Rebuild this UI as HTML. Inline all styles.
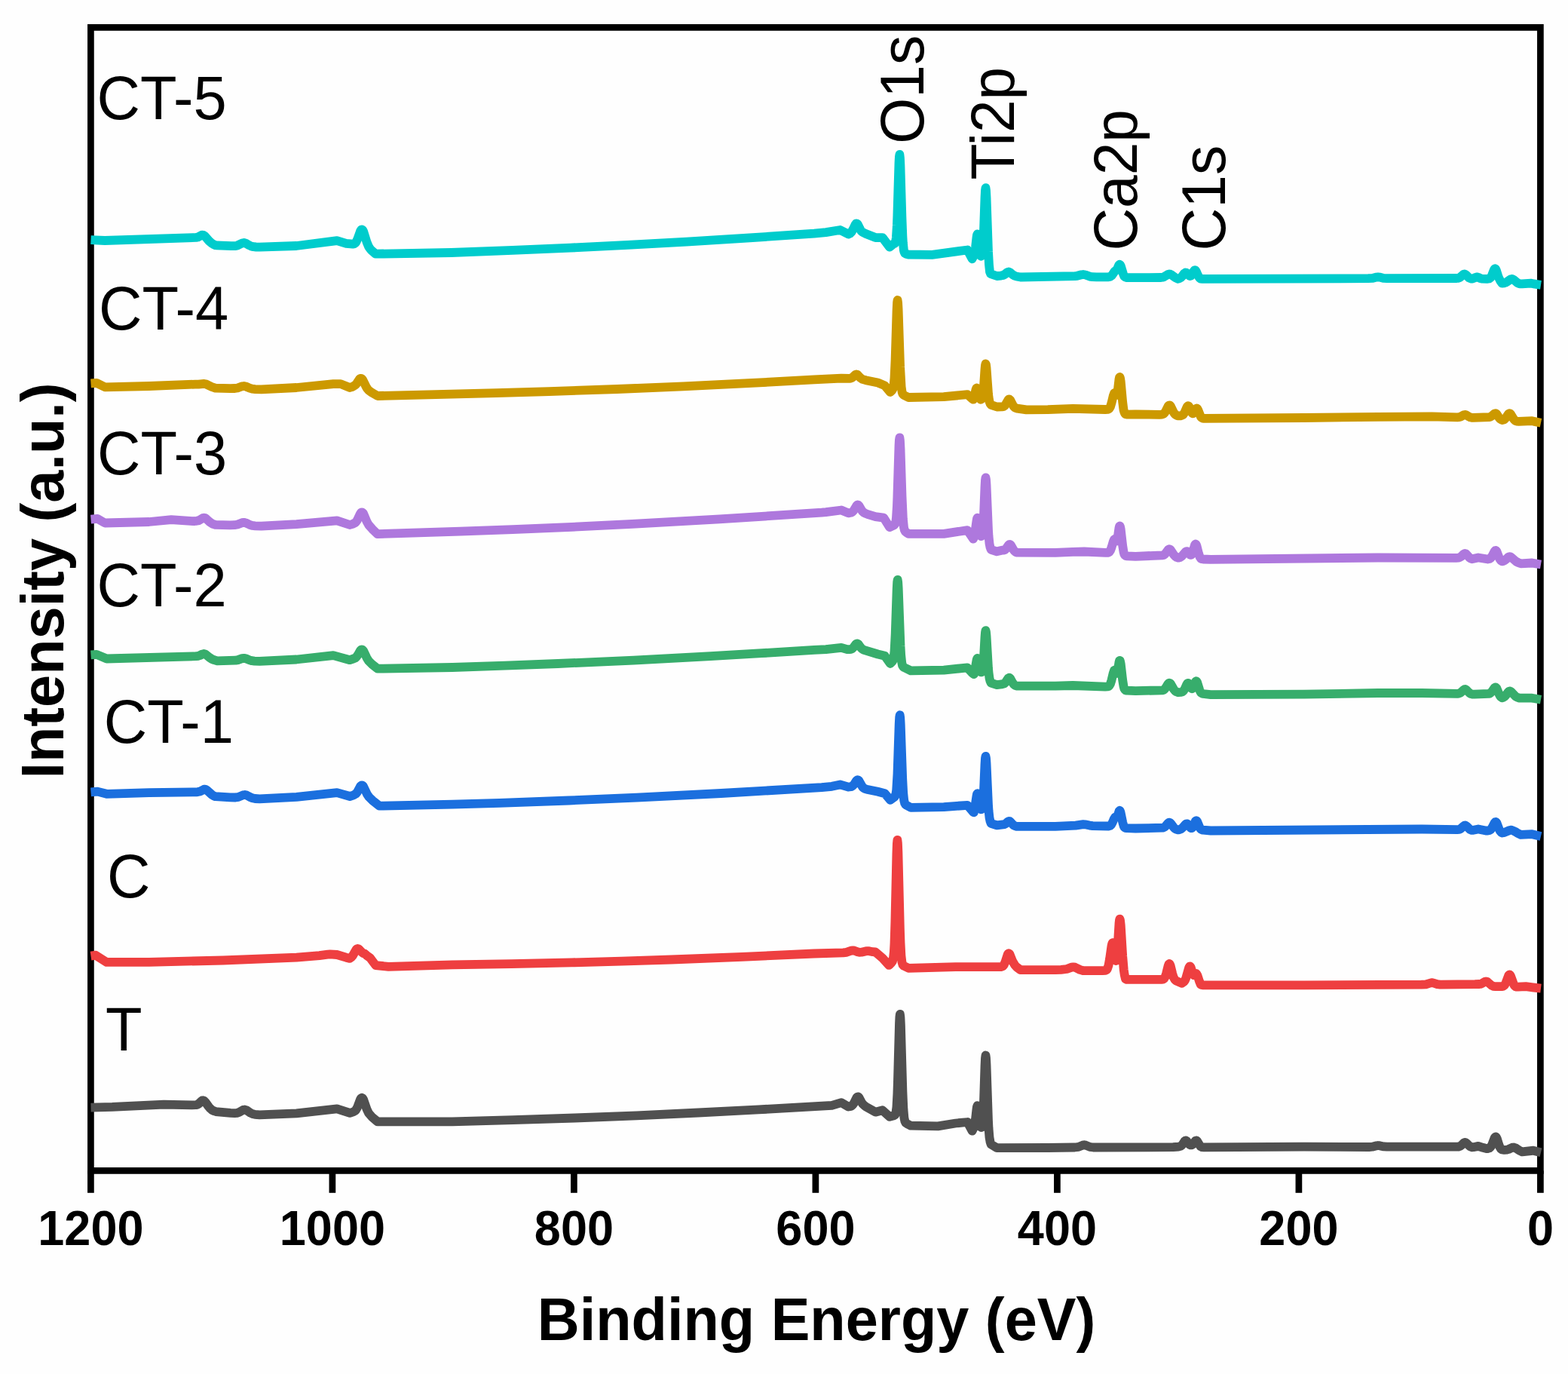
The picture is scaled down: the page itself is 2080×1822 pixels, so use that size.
<!DOCTYPE html>
<html><head><meta charset="utf-8"><title>XPS survey spectra</title><style>
html,body{margin:0;padding:0;background:#FEFEFE;overflow:hidden;}
svg{display:block;}
text{font-family:"Liberation Sans",Arial,sans-serif;fill:#000;}
.tk{font-size:63px;font-weight:bold;}
.lb{font-size:79.5px;}
.pk{font-size:78.5px;}
.ax{font-size:77.5px;font-weight:bold;}
</style></head>
<body>
<svg width="2080" height="1822" viewBox="0 0 2080 1822">
<rect x="0" y="0" width="2080" height="1822" fill="#FEFEFE"/>
<rect x="120.4" y="36.4" width="1923.0" height="1516.0" fill="none" stroke="#000" stroke-width="8.7"/>
<line x1="120.4" y1="1552.4" x2="120.4" y2="1581.8" stroke="#000" stroke-width="8.7"/>
<line x1="440.9" y1="1552.4" x2="440.9" y2="1581.8" stroke="#000" stroke-width="8.7"/>
<line x1="761.4" y1="1552.4" x2="761.4" y2="1581.8" stroke="#000" stroke-width="8.7"/>
<line x1="1081.9" y1="1552.4" x2="1081.9" y2="1581.8" stroke="#000" stroke-width="8.7"/>
<line x1="1402.4" y1="1552.4" x2="1402.4" y2="1581.8" stroke="#000" stroke-width="8.7"/>
<line x1="1722.9" y1="1552.4" x2="1722.9" y2="1581.8" stroke="#000" stroke-width="8.7"/>
<line x1="2043.4" y1="1552.4" x2="2043.4" y2="1581.8" stroke="#000" stroke-width="8.7"/>
<polyline points="120.5,318.2 139.0,319.0 260.3,314.9 262.5,314.5 267.3,311.9 268.8,311.6 270.3,312.0 271.8,313.2 277.3,319.5 280.3,322.2 282.5,323.6 285.7,325.2 287.3,325.3 306.6,326.2 311.6,326.2 315.1,325.4 321.1,322.5 323.6,322.0 326.1,322.7 330.6,325.3 333.1,326.5 336.1,327.2 339.6,327.5 344.4,327.7 393.3,326.0 447.0,319.1 459.2,322.8 468.0,323.6 469.5,323.4 470.5,322.9 471.5,322.1 472.5,320.8 474.5,316.5 478.0,306.6 479.0,304.9 480.0,304.4 481.0,305.0 482.0,306.6 486.5,320.9 489.0,327.0 490.5,329.3 492.5,331.7 498.3,336.7 598.5,335.0 680.0,331.9 756.5,328.6 832.5,324.9 910.5,320.6 994.5,315.4 1080.0,309.6 1095.6,308.1 1114.4,305.0 1125.4,310.6 1127.5,309.7 1129.5,307.8 1131.5,304.3 1134.5,298.0 1135.5,296.6 1136.3,296.3 1137.0,296.6 1138.0,297.8 1141.5,304.9 1142.5,306.4 1144.0,307.8 1148.5,310.0 1161.3,315.1 1170.7,315.1 1180.1,327.6 1186.0,322.9 1186.9,322.8 1187.4,322.3 1187.9,321.1 1188.4,318.8 1188.9,314.7 1189.9,298.3 1190.4,285.2 1192.5,215.5 1192.9,208.0 1193.4,204.9 1193.9,209.1 1194.4,219.5 1196.4,287.9 1197.4,313.7 1197.9,322.0 1198.9,331.9 1199.4,334.0 1200.4,335.9 1201.9,336.7 1205.0,337.5 1236.4,337.8 1283.3,331.5 1289.6,343.3 1291.5,339.8 1292.5,336.6 1294.0,328.2 1295.5,314.9 1296.0,311.7 1296.6,310.4 1297.0,311.3 1297.5,314.1 1300.0,335.7 1301.0,339.4 1301.5,339.7 1302.0,339.3 1302.5,338.3 1303.0,336.2 1304.0,326.4 1305.0,305.4 1306.5,261.6 1307.0,252.4 1307.5,249.2 1308.0,252.7 1308.5,261.6 1311.0,333.5 1312.0,351.0 1313.0,360.5 1314.0,362.8 1315.0,363.5 1322.4,366.0 1327.8,365.6 1330.8,364.9 1332.8,363.9 1336.2,361.1 1338.0,360.5 1339.8,361.2 1343.2,364.2 1345.8,365.7 1348.2,366.5 1353.7,367.5 1425.9,366.1 1428.9,365.8 1434.5,364.3 1436.9,364.0 1439.9,364.5 1445.4,366.6 1448.9,367.2 1454.4,367.4 1470.5,367.3 1473.0,366.7 1474.8,365.3 1478.5,360.0 1481.8,357.1 1484.2,351.7 1484.8,351.0 1485.2,350.7 1486.0,351.2 1486.8,352.7 1489.8,362.8 1491.2,366.2 1492.8,367.6 1495.2,368.2 1540.2,368.0 1542.5,367.7 1544.2,367.1 1549.2,364.0 1551.2,363.5 1552.5,363.7 1553.7,364.3 1558.9,368.1 1562.8,369.8 1564.9,369.0 1566.5,368.0 1567.9,366.6 1570.9,362.6 1572.5,361.5 1573.4,361.6 1574.2,362.1 1577.7,365.7 1578.5,366.0 1579.4,365.8 1580.4,365.1 1581.2,364.1 1583.9,359.1 1584.5,358.5 1585.2,358.2 1585.9,358.5 1586.7,359.7 1589.2,365.3 1590.7,367.9 1591.7,369.0 1592.7,369.6 1595.2,369.9 1815.0,369.2 1820.5,368.9 1826.0,367.6 1828.0,367.4 1830.0,367.6 1835.5,368.9 1839.5,369.1 1932.5,369.0 1934.5,368.8 1936.5,368.0 1941.0,364.1 1942.0,363.6 1942.7,363.5 1943.5,363.7 1944.5,364.3 1948.8,368.5 1951.0,369.5 1952.5,369.6 1953.8,369.4 1957.8,367.7 1959.3,367.4 1960.8,367.7 1963.8,369.1 1965.8,369.7 1972.5,369.9 1975.4,369.5 1976.5,368.9 1977.4,368.0 1978.9,365.4 1981.9,357.7 1982.5,356.7 1983.4,356.2 1983.9,356.5 1984.9,358.4 1987.4,366.4 1988.4,368.9 1990.4,372.8 1992.5,375.6 1995.3,375.3 1997.3,374.7 1998.8,373.9 2003.8,370.4 2004.8,370.0 2005.8,369.9 2007.8,370.8 2012.8,375.0 2015.8,376.3 2019.3,376.3 2030.7,375.7 2044.0,377.8" fill="none" stroke="#00CCCC" stroke-width="11.8" stroke-linejoin="round" stroke-linecap="butt"/>
<polyline points="120.5,508.4 128.1,507.9 139.1,513.3 197.8,512.0 258.8,509.6 263.3,509.7 270.8,508.9 273.8,509.6 280.8,513.0 285.7,514.6 305.6,515.1 311.6,515.0 315.1,514.5 321.1,512.3 323.6,512.0 326.1,512.5 331.1,514.7 334.5,515.7 338.5,516.1 346.8,516.4 393.3,514.0 442.1,509.1 451.9,509.1 464.1,514.0 467.8,512.8 471.3,510.6 473.3,508.3 476.8,502.9 477.8,502.0 478.8,501.8 479.8,502.2 481.0,503.4 485.8,513.1 487.3,515.5 488.8,517.3 492.5,520.2 500.8,525.0 658.5,521.1 728.5,519.1 818.5,516.0 906.5,512.3 992.5,508.2 1080.0,503.4 1116.0,501.7 1126.5,501.9 1128.5,501.6 1130.0,501.0 1131.5,499.9 1134.5,497.1 1136.0,496.5 1137.0,496.7 1138.0,497.4 1141.5,501.2 1144.0,502.9 1148.5,504.2 1164.5,507.5 1173.8,511.4 1180.9,520.0 1183.6,517.4 1184.6,515.4 1185.6,510.6 1186.5,501.1 1187.6,477.3 1189.6,411.4 1190.1,401.2 1190.6,398.0 1191.1,401.5 1191.6,410.6 1194.1,486.8 1195.6,512.8 1196.5,519.3 1197.0,521.3 1197.6,522.5 1199.1,524.0 1205.1,527.0 1252.0,526.2 1283.3,523.1 1289.7,528.8 1291.1,529.7 1292.5,525.8 1294.5,516.6 1295.2,514.8 1295.7,514.5 1296.2,515.0 1296.7,516.5 1299.2,526.9 1300.5,529.3 1301.0,529.8 1301.5,529.6 1302.2,529.0 1303.0,527.4 1304.0,522.4 1305.0,511.8 1306.5,489.3 1307.0,484.4 1307.5,482.4 1308.0,483.7 1308.5,487.8 1311.0,522.0 1311.5,526.6 1312.5,532.4 1313.5,535.2 1314.6,536.9 1322.4,539.5 1328.9,539.4 1330.9,539.1 1331.9,538.6 1332.9,537.8 1333.9,536.5 1337.4,530.3 1337.9,529.7 1338.8,529.4 1339.4,529.7 1340.4,530.9 1344.4,538.6 1345.4,539.7 1346.5,540.6 1349.4,541.6 1361.5,543.4 1390.0,543.1 1423.2,541.8 1466.0,543.0 1469.5,542.8 1470.5,542.5 1471.5,541.8 1473.0,539.2 1474.5,534.3 1476.7,525.1 1478.0,521.5 1478.5,521.0 1479.0,521.1 1480.5,523.6 1481.0,524.1 1481.7,523.3 1482.7,518.2 1484.5,502.8 1485.0,500.5 1485.2,500.1 1485.5,500.0 1486.0,501.4 1486.7,505.7 1489.2,533.3 1490.5,543.4 1491.2,546.1 1492.2,548.4 1493.2,549.3 1494.5,549.6 1506.3,549.5 1538.0,549.8 1541.5,549.6 1543.5,548.8 1545.0,547.3 1546.5,544.9 1549.5,538.8 1550.5,537.6 1551.2,537.3 1552.0,537.6 1553.0,538.8 1556.5,546.1 1558.0,548.5 1559.5,550.0 1561.5,551.0 1562.8,551.4 1566.2,551.3 1567.7,550.9 1569.2,550.1 1570.2,548.9 1571.2,547.3 1574.7,539.4 1575.6,538.4 1576.2,538.2 1576.7,538.4 1577.6,539.7 1580.7,546.7 1581.6,548.0 1582.1,548.3 1582.7,548.3 1583.7,547.3 1586.7,541.9 1587.6,541.5 1588.1,541.7 1589.2,543.5 1592.7,552.4 1593.6,553.5 1594.5,554.2 1595.6,554.6 1597.1,554.8 1730.0,554.0 1828.0,552.8 1899.5,552.3 1933.2,553.4 1935.2,553.2 1937.2,552.8 1941.8,550.3 1943.5,549.9 1945.2,550.4 1948.5,552.5 1950.2,553.3 1952.5,553.9 1954.2,553.9 1975.5,553.1 1977.0,552.7 1979.0,551.5 1982.5,548.5 1984.0,548.2 1984.5,548.3 1985.5,549.1 1988.5,553.8 1990.0,555.5 1991.5,556.6 1993.0,557.0 1994.8,556.6 1996.2,555.6 1997.8,553.8 2000.8,549.2 2001.8,548.4 2002.5,548.2 2003.2,548.5 2004.2,549.5 2007.2,554.6 2008.8,556.7 2010.2,558.0 2011.8,558.6 2014.8,558.9 2032.4,558.2 2044.0,560.7" fill="none" stroke="#CC9900" stroke-width="11.8" stroke-linejoin="round" stroke-linecap="butt"/>
<polyline points="120.5,688.6 129.3,687.9 139.1,693.5 197.8,692.0 227.1,689.1 256.4,691.1 258.5,691.0 260.6,690.8 264.1,690.1 269.1,687.0 270.6,686.6 272.1,687.0 273.6,688.0 278.1,692.1 280.5,693.8 282.6,694.9 285.7,695.9 305.1,696.3 311.1,696.2 315.1,695.5 321.1,693.2 323.6,692.8 326.1,693.4 331.1,695.8 334.5,696.9 338.5,697.3 346.8,697.7 393.3,695.2 447.0,690.3 464.1,696.0 468.5,694.6 471.0,693.3 472.0,692.5 474.0,689.6 478.0,681.1 479.0,679.7 480.0,679.3 481.0,679.7 482.0,680.9 486.5,691.5 489.0,696.0 494.0,701.7 500.8,708.2 610.5,704.6 680.0,702.1 758.5,698.8 838.5,694.9 954.5,688.4 1090.0,679.7 1095.6,679.2 1116.0,676.5 1125.4,680.4 1128.7,679.8 1130.2,679.1 1131.2,678.3 1132.7,676.6 1136.2,670.7 1137.2,669.7 1137.9,669.5 1138.7,669.8 1139.7,670.8 1142.7,676.1 1144.2,678.2 1146.2,679.9 1147.7,680.8 1150.5,681.8 1161.3,685.1 1172.3,686.7 1180.1,699.2 1185.9,696.4 1187.4,694.8 1187.9,693.6 1188.4,691.3 1188.9,687.3 1189.9,671.4 1190.4,658.8 1192.5,591.0 1192.9,583.5 1193.4,580.3 1193.9,583.8 1194.5,595.2 1196.5,657.8 1197.9,688.4 1199.0,699.3 1199.9,703.0 1200.9,704.8 1201.9,705.7 1205.1,707.8 1252.0,707.8 1283.3,703.1 1291.1,714.6 1292.0,712.4 1293.0,708.4 1295.5,690.5 1296.0,687.8 1296.6,686.7 1297.0,687.4 1297.5,689.8 1300.0,707.7 1301.0,710.7 1301.5,711.1 1302.0,711.1 1302.5,710.4 1303.0,708.8 1304.0,700.9 1305.0,683.2 1306.5,645.2 1307.0,636.7 1307.5,633.4 1308.0,635.9 1308.5,643.2 1311.0,702.7 1311.5,710.7 1312.5,720.8 1313.5,725.8 1314.6,728.8 1322.4,731.3 1330.2,729.6 1331.7,729.5 1333.2,728.9 1334.7,727.5 1338.2,722.5 1338.7,722.1 1339.6,721.9 1340.5,722.4 1341.2,723.3 1344.2,728.7 1345.7,730.7 1347.2,731.9 1349.2,732.7 1400.0,732.8 1423.2,731.8 1438.2,731.5 1466.5,732.9 1470.0,732.8 1471.5,732.0 1473.0,729.9 1474.5,725.9 1476.7,718.4 1478.0,715.4 1478.5,715.0 1479.0,715.1 1480.5,717.2 1481.0,717.5 1481.7,716.8 1482.7,712.5 1484.5,699.9 1485.0,697.9 1485.5,697.4 1486.0,698.5 1486.7,701.8 1489.2,723.6 1490.5,731.9 1491.4,735.0 1492.2,736.2 1493.2,737.0 1494.7,737.4 1506.3,737.8 1542.0,736.4 1543.5,736.0 1545.0,735.0 1546.5,733.3 1549.5,729.2 1550.5,728.4 1551.2,728.2 1552.0,728.5 1553.0,729.4 1557.0,735.5 1558.5,737.3 1561.0,739.0 1562.8,739.6 1563.5,739.6 1565.5,739.0 1567.4,737.8 1572.4,732.1 1574.0,731.1 1574.9,731.1 1575.5,731.5 1578.9,735.7 1579.5,735.9 1580.4,735.6 1581.0,734.9 1582.0,732.7 1584.9,722.9 1585.5,721.8 1586.0,721.5 1586.4,721.7 1586.9,722.4 1587.5,724.0 1590.0,733.9 1591.5,738.4 1593.0,740.6 1594.0,741.2 1596.0,741.5 1606.0,741.8 1828.0,739.5 1931.8,739.9 1934.5,739.7 1936.8,738.9 1938.5,737.8 1941.8,734.6 1943.2,734.0 1944.2,734.2 1945.2,734.9 1949.8,739.9 1951.2,740.8 1952.6,741.3 1961.0,739.5 1973.5,741.5 1976.0,741.0 1977.5,739.9 1979.0,737.9 1982.5,731.1 1983.5,730.1 1984.0,729.9 1984.5,730.0 1985.5,731.2 1988.5,739.3 1989.8,741.9 1991.0,743.4 1992.5,744.4 1993.8,744.2 1995.2,743.5 1997.5,742.0 2000.8,738.9 2001.8,738.3 2002.8,738.2 2003.8,738.5 2005.2,739.4 2011.2,744.6 2013.8,745.9 2017.4,747.3 2032.4,746.5 2044.0,748.5" fill="none" stroke="#AE78DD" stroke-width="11.8" stroke-linejoin="round" stroke-linecap="butt"/>
<polyline points="120.5,868.4 128.1,867.9 141.5,873.5 260.1,870.2 263.1,869.8 265.6,868.9 268.6,867.4 270.5,867.0 271.6,867.2 273.1,868.0 278.5,872.3 281.1,874.0 284.1,875.2 288.2,876.4 312.5,875.7 315.6,875.1 321.1,873.1 323.6,872.8 326.1,873.3 331.1,875.4 334.1,876.2 337.6,876.6 344.4,876.9 393.3,874.5 442.1,869.1 464.1,875.2 468.5,873.7 471.5,872.3 472.5,871.5 474.5,868.8 478.0,862.6 479.0,861.6 480.0,861.3 481.0,861.8 482.0,862.8 486.5,872.3 489.0,876.3 493.5,880.8 500.8,886.7 600.0,885.0 670.0,882.7 740.0,880.0 840.5,875.6 942.5,870.2 1010.5,866.2 1080.0,861.8 1095.6,861.2 1116.0,858.9 1123.8,861.2 1126.8,861.2 1128.8,860.9 1130.5,860.1 1132.3,858.3 1135.3,854.3 1136.3,853.6 1137.1,853.4 1137.8,853.6 1138.8,854.4 1141.8,858.6 1143.3,860.2 1144.5,861.1 1146.8,862.2 1164.5,867.5 1173.8,869.8 1180.9,880.0 1183.7,877.3 1184.7,875.4 1185.7,871.0 1186.5,863.7 1187.7,840.8 1189.7,780.9 1190.2,771.7 1190.7,768.9 1191.2,772.2 1191.7,780.6 1194.5,857.0 1195.2,868.8 1196.2,878.4 1197.0,882.2 1198.2,884.3 1199.7,885.3 1208.2,889.4 1252.0,888.6 1283.3,885.4 1290.0,892.7 1291.9,894.2 1293.0,889.9 1295.5,875.6 1296.0,873.7 1296.6,872.9 1297.0,873.4 1297.5,875.3 1300.0,888.7 1301.0,891.0 1301.5,891.4 1302.0,891.3 1302.5,890.9 1303.0,889.7 1304.0,884.1 1305.0,871.5 1306.5,844.5 1307.0,838.4 1307.5,836.1 1308.0,838.0 1308.5,843.2 1311.0,886.0 1311.5,891.8 1312.5,899.3 1313.5,903.2 1314.6,905.7 1322.4,908.1 1328.5,907.4 1331.9,906.6 1332.9,905.9 1333.9,904.8 1337.4,899.4 1337.9,899.0 1338.8,898.7 1339.4,898.9 1340.4,900.0 1343.4,905.5 1344.9,907.6 1346.5,908.8 1349.0,909.6 1400.0,909.7 1423.2,909.0 1466.0,910.6 1469.5,910.4 1470.5,910.1 1471.5,909.4 1473.0,906.8 1474.5,901.9 1476.7,892.6 1478.0,888.9 1478.7,888.5 1479.2,888.9 1481.2,893.0 1481.7,892.9 1482.0,892.2 1482.7,889.7 1484.5,878.0 1485.0,876.2 1485.5,875.8 1486.0,876.9 1486.7,880.3 1489.2,902.0 1490.5,910.2 1491.4,913.3 1492.2,914.5 1493.2,915.3 1494.7,915.7 1506.3,916.1 1542.0,915.4 1543.5,914.9 1545.0,913.8 1546.5,911.8 1549.5,906.8 1550.5,905.9 1551.2,905.7 1552.0,906.0 1553.0,907.0 1557.0,914.0 1559.0,916.3 1560.5,917.3 1562.8,918.1 1566.5,917.9 1568.5,917.3 1570.2,915.8 1571.7,913.3 1574.3,907.5 1575.2,906.2 1575.8,905.8 1576.5,905.8 1577.3,906.6 1580.5,912.7 1581.2,913.3 1581.8,913.2 1582.5,912.5 1583.2,911.1 1585.7,904.4 1586.3,903.5 1586.8,903.2 1587.3,903.4 1588.2,905.0 1591.3,915.0 1592.3,917.3 1593.3,918.7 1594.3,919.5 1595.8,920.0 1606.0,921.1 1730.0,920.6 1828.0,919.0 1886.2,919.0 1933.2,919.8 1935.2,919.6 1937.2,918.8 1941.8,914.7 1942.8,914.1 1943.5,914.0 1944.2,914.2 1945.2,914.8 1948.8,918.5 1950.5,919.8 1952.6,920.5 1955.8,920.6 1974.5,919.9 1976.0,919.6 1977.5,918.7 1979.0,917.2 1982.5,912.1 1983.5,911.5 1984.0,911.4 1984.5,911.7 1985.5,912.9 1988.5,920.2 1989.8,922.7 1991.0,924.2 1992.5,925.3 1994.2,924.8 1995.8,923.8 1997.5,922.1 2000.8,917.6 2001.8,916.7 2002.8,916.5 2003.8,916.8 2004.8,917.5 2010.5,923.5 2012.2,924.5 2014.8,925.4 2016.2,925.7 2032.4,925.7 2044.0,927.8" fill="none" stroke="#37AD6C" stroke-width="11.8" stroke-linejoin="round" stroke-linecap="butt"/>
<polyline points="120.5,1050.3 129.3,1049.6 141.5,1052.8 197.8,1051.1 260.5,1050.3 262.5,1050.1 265.3,1049.5 270.3,1046.9 271.8,1046.6 273.3,1047.1 274.5,1047.9 281.3,1054.0 283.3,1055.2 285.7,1056.2 305.3,1057.3 312.5,1057.5 316.3,1056.9 322.3,1054.4 324.8,1054.0 327.3,1054.6 332.3,1057.3 334.8,1058.3 338.3,1059.0 344.4,1059.4 393.3,1056.9 447.0,1051.1 464.1,1056.0 468.5,1054.7 472.0,1052.7 474.0,1050.2 478.0,1042.8 479.0,1041.7 480.0,1041.3 481.0,1041.7 482.0,1042.7 487.0,1053.2 489.5,1056.9 494.0,1061.3 503.2,1068.7 600.0,1066.7 662.5,1064.8 754.5,1061.5 844.5,1057.7 956.5,1052.0 1090.0,1044.2 1103.5,1042.8 1114.4,1040.4 1125.4,1043.6 1126.2,1043.5 1129.2,1043.1 1131.2,1041.9 1132.7,1040.4 1136.2,1035.1 1137.2,1034.3 1137.7,1034.2 1138.5,1034.5 1139.2,1035.0 1143.7,1042.9 1144.7,1044.1 1146.2,1045.3 1147.7,1046.1 1149.7,1046.7 1164.5,1049.8 1173.8,1052.2 1180.9,1060.8 1185.7,1057.5 1187.2,1056.0 1188.5,1052.4 1189.2,1047.7 1190.5,1026.2 1192.7,960.2 1193.2,951.1 1193.7,948.2 1194.2,951.6 1194.7,960.3 1197.2,1032.4 1198.2,1051.3 1199.2,1061.2 1200.2,1065.2 1201.2,1066.8 1202.7,1067.9 1208.2,1070.9 1252.0,1070.1 1283.3,1067.8 1290.0,1075.7 1291.0,1076.8 1291.9,1077.3 1293.0,1072.1 1295.5,1055.4 1296.0,1053.1 1296.6,1052.2 1297.0,1052.8 1297.5,1054.9 1300.0,1070.3 1301.0,1072.9 1301.5,1073.3 1302.0,1073.2 1302.5,1072.6 1303.0,1071.1 1304.0,1063.9 1305.0,1047.7 1306.5,1013.1 1307.0,1005.6 1307.5,1002.8 1308.0,1005.3 1308.5,1012.1 1311.0,1067.3 1311.5,1074.8 1312.5,1084.2 1313.5,1088.9 1314.6,1091.8 1322.4,1094.4 1332.4,1093.1 1333.9,1092.3 1336.9,1089.6 1338.5,1088.9 1339.4,1089.1 1340.4,1089.8 1343.4,1093.2 1344.9,1094.5 1346.5,1095.3 1349.0,1095.9 1400.0,1095.9 1426.9,1094.6 1436.9,1093.1 1439.4,1093.3 1445.4,1094.6 1449.4,1095.1 1471.0,1095.5 1472.5,1095.0 1474.0,1093.7 1475.5,1091.1 1478.0,1085.4 1479.0,1083.9 1480.0,1083.3 1481.5,1083.0 1482.0,1082.5 1482.7,1081.3 1484.5,1075.7 1485.2,1074.8 1485.7,1075.1 1486.5,1077.2 1489.2,1090.3 1490.5,1095.0 1491.4,1096.8 1492.2,1097.5 1493.2,1097.9 1494.7,1098.2 1506.3,1098.5 1542.0,1097.7 1543.5,1097.4 1545.0,1096.6 1546.5,1095.1 1549.5,1091.5 1550.5,1090.8 1551.2,1090.7 1552.0,1090.9 1553.0,1091.8 1556.9,1097.1 1558.4,1098.6 1560.5,1099.8 1563.0,1100.4 1565.0,1100.0 1566.9,1099.1 1568.9,1097.3 1572.4,1093.3 1573.4,1092.6 1574.3,1092.3 1574.9,1092.4 1575.8,1093.1 1579.3,1097.6 1580.3,1098.1 1580.9,1098.1 1581.8,1097.4 1582.5,1096.4 1585.8,1089.0 1586.4,1088.4 1586.9,1088.2 1587.4,1088.4 1588.3,1089.7 1591.3,1097.0 1592.3,1098.7 1593.3,1099.8 1594.3,1100.3 1595.8,1100.7 1606.0,1101.5 1886.2,1099.5 1933.2,1100.2 1935.2,1100.0 1937.2,1099.2 1941.8,1095.2 1942.8,1094.6 1943.5,1094.5 1944.2,1094.7 1945.2,1095.3 1949.8,1099.8 1952.2,1100.9 1954.5,1100.8 1961.0,1099.5 1971.0,1101.5 1973.5,1101.6 1976.0,1101.0 1977.5,1099.9 1979.0,1097.9 1982.5,1091.1 1983.5,1090.1 1984.0,1089.9 1984.5,1090.0 1985.5,1091.2 1988.5,1099.3 1989.7,1101.8 1991.0,1103.4 1992.5,1104.5 1995.7,1103.9 2002.5,1101.0 2004.7,1100.7 2007.2,1101.5 2010.0,1102.8 2013.2,1104.9 2017.4,1106.8 2032.4,1106.2 2044.0,1109.0" fill="none" stroke="#1B6FDE" stroke-width="11.8" stroke-linejoin="round" stroke-linecap="butt"/>
<polyline points="120.5,1267.6 126.9,1266.7 141.5,1275.9 197.8,1275.9 295.5,1273.5 393.3,1269.6 423.7,1267.2 434.7,1265.6 437.7,1265.4 447.0,1266.0 459.1,1269.7 464.1,1270.9 466.1,1269.4 467.6,1267.7 472.5,1259.2 473.6,1258.2 474.5,1258.0 475.6,1258.4 476.5,1259.0 480.6,1263.3 482.1,1264.2 483.7,1264.5 486.1,1266.7 491.0,1270.3 498.3,1280.1 515.4,1281.8 600.0,1279.4 678.5,1278.2 758.5,1276.4 824.5,1274.6 890.5,1272.5 984.5,1268.9 1080.0,1264.5 1118.5,1263.3 1122.6,1262.8 1129.1,1260.7 1131.6,1260.3 1133.4,1260.6 1137.6,1262.3 1139.9,1262.8 1142.6,1262.7 1148.1,1261.4 1150.5,1261.1 1152.9,1261.2 1157.9,1262.2 1161.3,1262.5 1170.7,1270.5 1179.3,1279.9 1182.5,1276.8 1183.9,1274.7 1185.0,1270.3 1185.9,1261.8 1186.5,1250.7 1187.4,1222.5 1189.4,1132.5 1189.9,1118.5 1190.4,1113.8 1190.9,1118.2 1191.4,1130.3 1193.9,1232.4 1194.5,1250.0 1195.4,1266.8 1196.4,1275.7 1197.4,1279.2 1197.9,1279.9 1198.9,1280.8 1205.1,1283.8 1267.7,1282.2 1327.6,1282.1 1329.1,1281.8 1330.1,1281.3 1331.1,1280.4 1332.0,1279.1 1333.6,1275.2 1336.5,1266.2 1337.1,1265.0 1337.6,1264.4 1338.1,1264.2 1338.6,1264.4 1339.6,1265.6 1343.1,1274.5 1346.1,1279.6 1348.6,1282.4 1353.7,1286.1 1400.0,1286.1 1407.6,1285.8 1415.1,1285.0 1421.6,1282.6 1423.6,1282.3 1426.1,1282.7 1432.5,1285.9 1436.5,1287.0 1462.5,1287.2 1466.5,1286.9 1468.0,1286.1 1469.0,1284.7 1470.5,1280.2 1472.0,1271.9 1474.5,1254.3 1475.2,1251.4 1475.7,1250.2 1476.2,1250.1 1476.5,1250.8 1477.0,1252.9 1479.7,1272.2 1480.2,1273.8 1480.5,1274.0 1481.0,1272.8 1482.2,1262.3 1484.5,1224.5 1485.0,1220.0 1485.5,1218.6 1486.0,1220.3 1486.7,1226.4 1489.2,1267.7 1490.7,1285.6 1491.7,1292.7 1492.7,1297.0 1493.0,1298.1 1494.5,1298.8 1540.7,1298.9 1542.7,1298.7 1544.2,1297.8 1545.7,1295.3 1547.2,1290.5 1549.7,1280.5 1550.5,1278.6 1551.2,1278.1 1551.7,1278.4 1552.7,1280.7 1555.2,1291.0 1556.7,1295.9 1558.5,1299.1 1560.2,1300.6 1567.8,1303.9 1570.6,1301.8 1572.1,1299.7 1573.1,1297.4 1577.1,1283.4 1577.7,1282.2 1578.2,1281.5 1578.6,1281.4 1579.1,1281.8 1579.7,1282.8 1582.1,1290.8 1583.1,1292.8 1583.6,1293.1 1584.1,1293.1 1586.1,1291.1 1586.7,1290.9 1587.2,1291.2 1588.5,1293.6 1591.2,1301.8 1592.7,1305.5 1593.7,1306.0 1595.2,1306.3 1730.0,1306.3 1885.5,1305.7 1891.5,1305.4 1897.5,1303.5 1899.5,1303.2 1901.5,1303.5 1906.5,1305.2 1910.5,1305.6 1956.5,1305.2 1962.5,1305.0 1964.2,1304.8 1966.2,1303.9 1969.7,1301.8 1971.2,1301.5 1972.2,1301.6 1973.2,1302.1 1978.2,1306.4 1980.9,1307.8 1984.2,1308.2 1991.1,1308.2 1992.6,1308.1 1994.1,1307.7 1995.1,1307.0 1996.1,1306.0 1997.6,1303.1 2001.1,1293.7 2001.6,1292.9 2002.5,1292.4 2003.1,1292.7 2004.1,1294.4 2008.1,1305.5 2009.1,1307.1 2010.6,1308.3 2012.1,1308.7 2013.6,1308.7 2024.1,1308.2 2044.0,1310.7" fill="none" stroke="#EE3F40" stroke-width="11.8" stroke-linejoin="round" stroke-linecap="butt"/>
<polyline points="120.5,1468.6 148.9,1467.9 217.3,1464.7 254.5,1465.3 259.8,1465.2 261.3,1464.9 263.3,1463.9 267.3,1460.1 268.3,1459.4 269.3,1459.2 270.8,1459.8 272.3,1461.2 276.8,1467.5 278.8,1469.8 281.3,1471.9 283.8,1473.2 286.3,1474.0 305.8,1475.8 311.3,1476.1 314.5,1475.8 317.3,1474.9 322.5,1471.9 324.8,1471.5 327.3,1472.3 332.3,1475.8 334.8,1477.0 338.3,1477.9 344.4,1478.4 393.3,1476.4 447.0,1470.3 464.1,1475.9 468.5,1474.5 471.0,1473.0 472.0,1472.0 474.0,1468.5 478.0,1457.8 479.0,1456.2 480.0,1455.7 481.0,1456.3 482.0,1457.8 486.5,1470.7 489.0,1476.0 493.5,1481.3 500.8,1487.4 600.0,1487.4 680.5,1485.2 762.5,1482.5 844.5,1479.3 926.5,1475.5 1006.5,1471.4 1103.5,1465.8 1116.0,1462.2 1125.4,1467.6 1128.7,1466.9 1129.7,1466.4 1131.0,1465.2 1132.7,1462.9 1136.2,1455.8 1137.2,1454.6 1137.9,1454.3 1138.7,1454.5 1139.7,1455.6 1142.7,1461.4 1144.2,1463.7 1147.2,1466.5 1149.2,1467.9 1161.3,1474.7 1170.7,1472.3 1180.1,1480.9 1185.9,1479.3 1187.4,1478.2 1187.9,1477.2 1188.5,1475.0 1189.4,1468.2 1190.4,1450.0 1190.9,1435.4 1193.0,1357.1 1193.4,1348.5 1193.9,1344.9 1194.4,1349.0 1194.9,1359.5 1197.4,1447.4 1198.4,1470.4 1199.4,1482.2 1200.4,1487.0 1201.4,1488.8 1202.9,1490.0 1208.2,1492.7 1244.2,1493.4 1267.7,1489.5 1283.3,1488.0 1289.6,1499.7 1291.5,1496.0 1292.5,1492.7 1294.0,1484.1 1295.5,1470.7 1296.0,1467.5 1296.6,1466.1 1297.0,1466.9 1297.5,1469.7 1300.0,1490.9 1301.0,1494.4 1301.5,1495.0 1302.0,1494.9 1302.5,1494.0 1303.0,1492.1 1304.0,1482.3 1305.0,1460.3 1306.5,1413.5 1307.0,1403.3 1307.5,1399.5 1308.0,1402.8 1308.5,1412.0 1311.0,1486.3 1311.5,1496.0 1312.5,1508.2 1313.5,1514.1 1314.6,1517.5 1322.4,1522.1 1390.0,1522.0 1425.7,1521.5 1430.7,1520.9 1436.2,1518.6 1438.2,1518.2 1440.2,1518.6 1445.7,1520.9 1450.2,1521.5 1556.2,1521.2 1563.3,1520.6 1566.0,1519.9 1567.3,1519.0 1568.3,1517.9 1571.3,1513.4 1572.3,1512.6 1572.8,1512.4 1573.3,1512.5 1574.3,1513.2 1576.8,1516.7 1577.8,1517.7 1579.3,1518.4 1580.8,1518.3 1582.5,1517.2 1585.8,1512.8 1586.8,1512.4 1587.3,1512.5 1588.3,1513.5 1591.3,1518.5 1592.7,1520.3 1594.5,1521.2 1596.8,1521.4 1730.0,1520.7 1816.0,1521.0 1820.5,1520.7 1826.0,1519.3 1828.0,1519.0 1830.0,1519.2 1835.5,1520.4 1840.0,1520.7 1931.8,1520.7 1934.8,1520.5 1936.8,1519.9 1938.5,1518.7 1941.8,1515.6 1942.8,1515.0 1943.5,1514.9 1944.2,1515.1 1945.2,1515.7 1949.5,1519.9 1951.8,1521.1 1952.6,1521.3 1954.5,1521.2 1961.0,1519.9 1967.0,1521.8 1972.6,1523.2 1975.8,1522.3 1976.8,1521.5 1977.8,1520.3 1979.3,1517.7 1982.5,1509.2 1983.3,1507.9 1984.2,1507.4 1984.8,1507.8 1985.8,1509.8 1988.3,1517.9 1989.5,1521.0 1990.8,1523.2 1992.5,1524.5 1995.3,1524.9 1999.0,1524.6 2001.5,1523.9 2006.0,1521.7 2008.0,1521.5 2011.0,1522.6 2015.5,1525.7 2019.1,1527.3 2034.0,1525.7 2044.0,1528.2" fill="none" stroke="#505050" stroke-width="11.8" stroke-linejoin="round" stroke-linecap="butt"/>
<text transform="translate(120.4,1651) scale(1,1.02)" text-anchor="middle" class="tk">1200</text>
<text transform="translate(440.9,1651) scale(1,1.02)" text-anchor="middle" class="tk">1000</text>
<text transform="translate(761.4,1651) scale(1,1.02)" text-anchor="middle" class="tk">800</text>
<text transform="translate(1081.9,1651) scale(1,1.02)" text-anchor="middle" class="tk">600</text>
<text transform="translate(1402.4,1651) scale(1,1.02)" text-anchor="middle" class="tk">400</text>
<text transform="translate(1722.9,1651) scale(1,1.02)" text-anchor="middle" class="tk">200</text>
<text transform="translate(2043.4,1651) scale(1,1.02)" text-anchor="middle" class="tk">0</text>
<text transform="translate(128.5,157.6) scale(1,1.016)" class="lb">CT-5</text>
<text transform="translate(131.0,436.9) scale(1,1.016)" class="lb">CT-4</text>
<text transform="translate(129.0,629.2) scale(1,1.016)" class="lb">CT-3</text>
<text transform="translate(128.5,804.3) scale(1,1.016)" class="lb">CT-2</text>
<text transform="translate(137.8,985.3) scale(1,1.016)" class="lb">CT-1</text>
<text transform="translate(142.0,1190.0) scale(1,1.016)" class="lb">C</text>
<text transform="translate(140.0,1392.9) scale(1,1.016)" class="lb">T</text>
<text transform="translate(1225,190.7) rotate(-90) scale(1,1.045)" class="pk">O1s</text>
<text transform="translate(1345,238.5) rotate(-90) scale(1,1.045)" class="pk">Ti2p</text>
<text transform="translate(1508,332.6) rotate(-90) scale(1,1.045)" class="pk">Ca2p</text>
<text transform="translate(1625,332.4) rotate(-90) scale(1,1.045)" class="pk">C1s</text>
<text transform="translate(1083,1777) scale(1,1.04)" text-anchor="middle" class="ax">Binding Energy (eV)</text>
<text transform="translate(84.2,770) rotate(-90) scale(1,1.04)" text-anchor="middle" class="ax">Intensity (a.u.)</text>
</svg>
</body></html>
